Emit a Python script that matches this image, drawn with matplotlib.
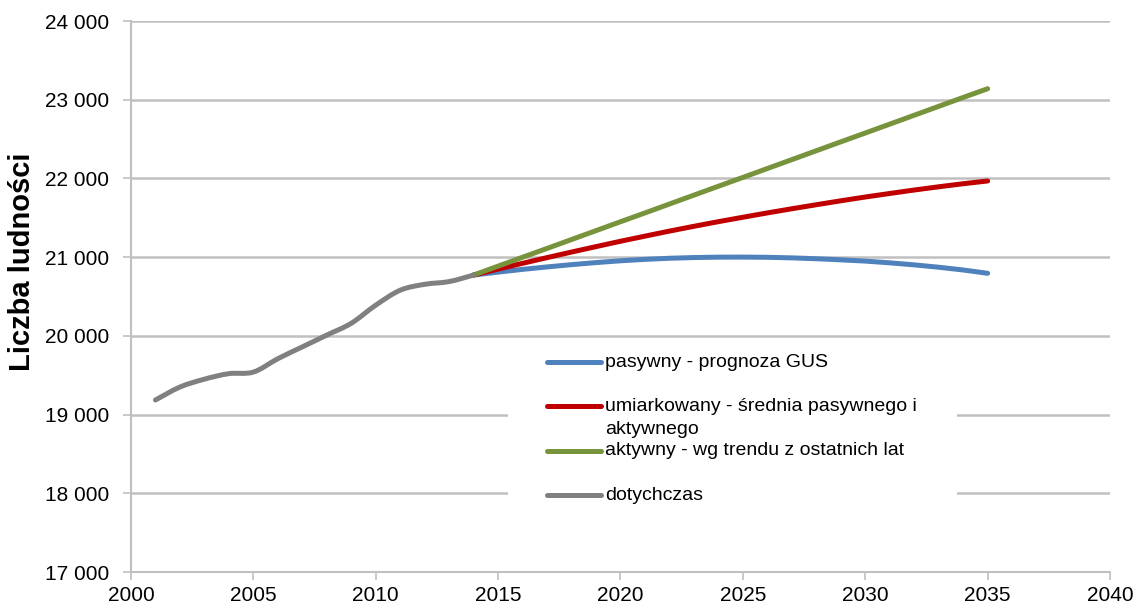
import matplotlib.pyplot as plt
from matplotlib.lines import Line2D
from matplotlib.patches import Rectangle, PathPatch
from matplotlib.path import Path
from matplotlib.ticker import FuncFormatter

plt.rcParams['font.family'] = ['Liberation Sans', 'DejaVu Sans']

# historical data
years_hist = list(range(2001, 2015))
hist = [19185, 19350, 19450, 19520, 19540, 19710, 19860, 20010, 20160, 20390,
        20580, 20655, 20690, 20773]

# projections 2014-2035
years_proj = list(range(2014, 2036))
pasywny = [20773, 20810, 20845, 20876, 20905, 20931, 20954, 20972, 20986, 20995, 21000,
           21001, 20998, 20991, 20980, 20966, 20950, 20928, 20902, 20872, 20837, 20795]
aktywny = [20773, 20886, 20999, 21111, 21224, 21337, 21450, 21562, 21675, 21788, 21901,
           22013, 22126, 22239, 22352, 22465, 22577, 22690, 22803, 22916, 23029, 23140]
umiarkowany = [20773, 20848, 20922, 20994, 21065, 21134, 21202, 21267, 21331, 21392, 21451,
               21507, 21562, 21615, 21666, 21716, 21764, 21809, 21853, 21894, 21933, 21968]

labels = ['pasywny - prognoza GUS',
          'umiarkowany - średnia pasywnego i\naktywnego',
          'aktywny - wg trendu z ostatnich lat',
          'dotychczas']
colors = ['#4f81bd', '#c00000', '#77933c', '#808080']


def smooth_path(xs, ys):
    # Excel-like smoothed line: Catmull-Rom segments as cubic Beziers
    pts = list(zip(xs, ys))
    verts = [pts[0]]
    codes = [Path.MOVETO]
    n = len(pts)
    for i in range(n - 1):
        p0 = pts[max(i - 1, 0)]
        p1 = pts[i]
        p2 = pts[i + 1]
        p3 = pts[min(i + 2, n - 1)]
        c1 = (p1[0] + (p2[0] - p0[0]) / 6, p1[1] + (p2[1] - p0[1]) / 6)
        c2 = (p2[0] - (p3[0] - p1[0]) / 6, p2[1] - (p3[1] - p1[1]) / 6)
        verts += [c1, c2, p2]
        codes += [Path.CURVE4] * 3
    return Path(verts, codes)


fig = plt.figure(figsize=(11.38, 6.06), dpi=100)
ax = fig.add_axes([0.1151, 0.0561, 0.8603, 0.9092])

lw = 3.6
ax.plot(years_proj, pasywny, color=colors[0], lw=lw, solid_capstyle='round', zorder=3)
ax.plot(years_proj, umiarkowany, color=colors[1], lw=lw, solid_capstyle='round', zorder=3)
ax.plot(years_proj, aktywny, color=colors[2], lw=lw, solid_capstyle='round', zorder=4)
ax.add_patch(PathPatch(smooth_path(years_hist, hist), facecolor='none', edgecolor=colors[3],
                       lw=lw, capstyle='round', joinstyle='round', zorder=5))

ax.set_xlim(2000, 2040)
ax.set_ylim(17000, 24000)
ax.set_xticks(range(2000, 2041, 5))
ax.set_yticks(range(17000, 24001, 1000))
ax.yaxis.set_major_formatter(FuncFormatter(lambda v, p: f'{int(v):,}'.replace(',', ' ')))

ax.grid(axis='y', color='#c0c0c0', lw=1.8, zorder=0)
for s in ['top', 'right']:
    ax.spines[s].set_visible(False)
for s in ['left', 'bottom']:
    ax.spines[s].set_color('#c0c0c0')
    ax.spines[s].set_linewidth(1.5)
ax.tick_params(axis='both', colors='#c0c0c0', labelcolor='black', labelsize=15,
               length=6, width=1.2)
ax.tick_params(axis='y', pad=10)
ax.tick_params(axis='x', pad=4)

ax.text(-0.1113, 0.564, 'Liczba ludności', transform=ax.transAxes, rotation=90,
        fontsize=21, fontweight='bold', ha='center', va='center')

# legend (manual, with white background over gridlines)
ax.add_patch(Rectangle((0.385, 0.08), 0.459, 0.34, transform=ax.transAxes,
                       facecolor='white', edgecolor='none', zorder=6))
leg_y = [0.3811, 0.3007, 0.2201, 0.1397]
for y, c, lab in zip(leg_y, colors, labels):
    ax.add_line(Line2D([0.4249, 0.4801], [y, y], transform=ax.transAxes, color=c,
                       lw=lw, solid_capstyle='round', zorder=7))
    parts = lab.split('\n')
    ax.text(0.4842, y, parts[0], transform=ax.transAxes, fontsize=14,
            va='center', ha='left', zorder=7)
    if len(parts) > 1:
        ax.text(0.4842, y - 0.0418, parts[1], transform=ax.transAxes, fontsize=14,
                va='center', ha='left', zorder=7)

fig.savefig('out.png', dpi=100)
